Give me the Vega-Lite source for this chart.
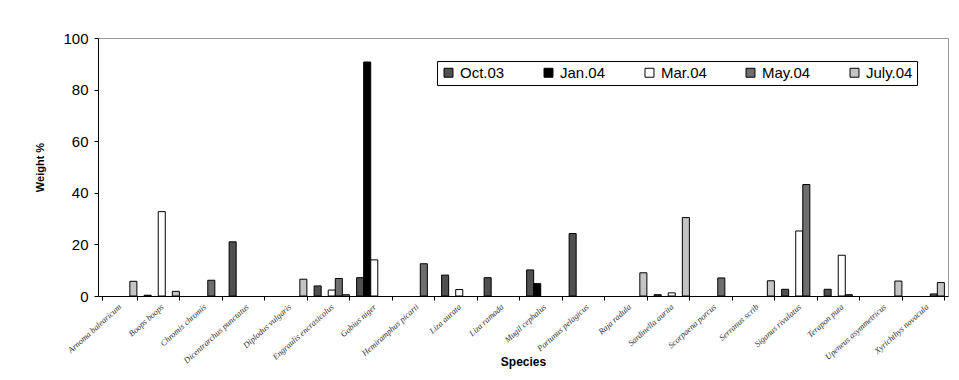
{
  "$schema": "https://vega.github.io/schema/vega-lite/v6.json",
  "width": 850,
  "height": 258,
  "autosize": {"type": "none"},
  "padding": {"left": 98, "top": 38, "right": 11, "bottom": 84},
  "background": "white",
  "config": {
    "view": {"stroke": "#9a9a9a", "strokeWidth": 1},
    "font": "Liberation Sans"
  },
  "data": {
    "values": [
      {"species": "Arnoma balearicum", "period": "July.04", "weight": 5.7},
      {"species": "Boops boops", "period": "Oct.03", "weight": 0.3},
      {"species": "Boops boops", "period": "Mar.04", "weight": 32.7},
      {"species": "Boops boops", "period": "July.04", "weight": 1.8},
      {"species": "Chromis chromis", "period": "May.04", "weight": 6.1},
      {"species": "Dicentrarchus punctatus", "period": "Oct.03", "weight": 21.0},
      {"species": "Diplodus vulgaris", "period": "July.04", "weight": 6.5},
      {"species": "Engraulis encrasicolus", "period": "Oct.03", "weight": 3.9},
      {"species": "Engraulis encrasicolus", "period": "Mar.04", "weight": 2.3},
      {"species": "Engraulis encrasicolus", "period": "May.04", "weight": 6.8},
      {"species": "Engraulis encrasicolus", "period": "July.04", "weight": 0.5},
      {"species": "Gobius niger", "period": "Oct.03", "weight": 7.1},
      {"species": "Gobius niger", "period": "Jan.04", "weight": 90.7},
      {"species": "Gobius niger", "period": "Mar.04", "weight": 14.0},
      {"species": "Hemiramphus picarti", "period": "May.04", "weight": 12.5},
      {"species": "Liza aurata", "period": "Oct.03", "weight": 8.1},
      {"species": "Liza aurata", "period": "Mar.04", "weight": 2.5},
      {"species": "Liza ramada", "period": "Oct.03", "weight": 7.1},
      {"species": "Mugil cephalus", "period": "Oct.03", "weight": 10.1},
      {"species": "Mugil cephalus", "period": "Jan.04", "weight": 4.8},
      {"species": "Portunus pelagicus", "period": "Oct.03", "weight": 24.2},
      {"species": "Raja radula", "period": "July.04", "weight": 9.0},
      {"species": "Sardinella aurita", "period": "Oct.03", "weight": 0.5},
      {"species": "Sardinella aurita", "period": "Mar.04", "weight": 1.2},
      {"species": "Sardinella aurita", "period": "July.04", "weight": 30.4},
      {"species": "Scorpaena porcus", "period": "May.04", "weight": 7.0},
      {"species": "Serranus scrib", "period": "July.04", "weight": 5.9},
      {"species": "Siganus rivulatus", "period": "Oct.03", "weight": 2.6},
      {"species": "Siganus rivulatus", "period": "Mar.04", "weight": 25.2},
      {"species": "Siganus rivulatus", "period": "May.04", "weight": 43.2},
      {"species": "Terapon puta", "period": "Oct.03", "weight": 2.6},
      {"species": "Terapon puta", "period": "Mar.04", "weight": 15.8},
      {"species": "Terapon puta", "period": "May.04", "weight": 0.5},
      {"species": "Upeneus asymmetricus", "period": "July.04", "weight": 5.8},
      {"species": "Xyrichthys novacula", "period": "May.04", "weight": 0.8},
      {"species": "Xyrichthys novacula", "period": "July.04", "weight": 5.2}
    ]
  },
  "mark": {"type": "bar", "stroke": "black", "strokeWidth": 1},
  "encoding": {
    "x": {
      "field": "species",
      "type": "nominal",
      "sort": null,
      "scale": {
        "domain": ["Arnoma balearicum", "Boops boops", "Chromis chromis", "Dicentrarchus punctatus", "Diplodus vulgaris", "Engraulis encrasicolus", "Gobius niger", "Hemiramphus picarti", "Liza aurata", "Liza ramada", "Mugil cephalus", "Portunus pelagicus", "Raja radula", "Sardinella aurita", "Scorpaena porcus", "Serranus scrib", "Siganus rivulatus", "Terapon puta", "Upeneus asymmetricus", "Xyrichthys novacula"],
        "paddingInner": 0.17,
        "paddingOuter": 0.085
      },
      "axis": {
        "title": "Species",
        "titleFont": "Liberation Sans",
        "titleFontSize": 12,
        "titleFontWeight": "bold",
        "titleColor": "black",
        "titlePadding": -8,
        "labelAngle": -42,
        "labelAlign": "right",
        "labelBaseline": "middle",
        "labelFont": "Liberation Serif",
        "labelFontStyle": "italic",
        "labelFontSize": 8.5,
        "labelColor": "#333333",
        "labelPadding": 5,
        "tickBand": "extent",
        "tickSize": 4,
        "tickColor": "black",
        "domainColor": "black",
        "labelOverlap": false
      }
    },
    "xOffset": {
      "field": "period",
      "type": "nominal",
      "scale": {"domain": ["Oct.03", "Jan.04", "Mar.04", "May.04", "July.04"], "paddingInner": 0, "paddingOuter": 0}
    },
    "y": {
      "field": "weight",
      "type": "quantitative",
      "scale": {"domain": [0, 100]},
      "axis": {
        "title": "Weight %",
        "titleFont": "Liberation Sans",
        "titleFontSize": 11,
        "titleFontWeight": "bold",
        "titleColor": "black",
        "titlePadding": 17,
        "values": [0, 20, 40, 60, 80, 100],
        "labelFontSize": 15,
        "labelColor": "black",
        "labelPadding": 6,
        "tickSize": 4,
        "tickColor": "black",
        "domainColor": "black",
        "grid": false
      }
    },
    "color": {
      "field": "period",
      "type": "nominal",
      "scale": {
        "domain": ["Oct.03", "Jan.04", "Mar.04", "May.04", "July.04"],
        "range": ["#505050", "#000000", "#ffffff", "#6e6e6e", "#c4c4c4"]
      },
      "legend": {
        "title": null,
        "orient": "none",
        "legendX": 339,
        "legendY": 23,
        "direction": "horizontal",
        "columns": 5,
        "columnPadding": 36,
        "symbolType": "square",
        "symbolSize": 80,
        "symbolStrokeColor": "black",
        "symbolStrokeWidth": 1,
        "labelFontSize": 15,
        "labelColor": "black",
        "labelOffset": 4,
        "strokeColor": "black",
        "fillColor": "white",
        "padding": 4
      }
    }
  }
}
